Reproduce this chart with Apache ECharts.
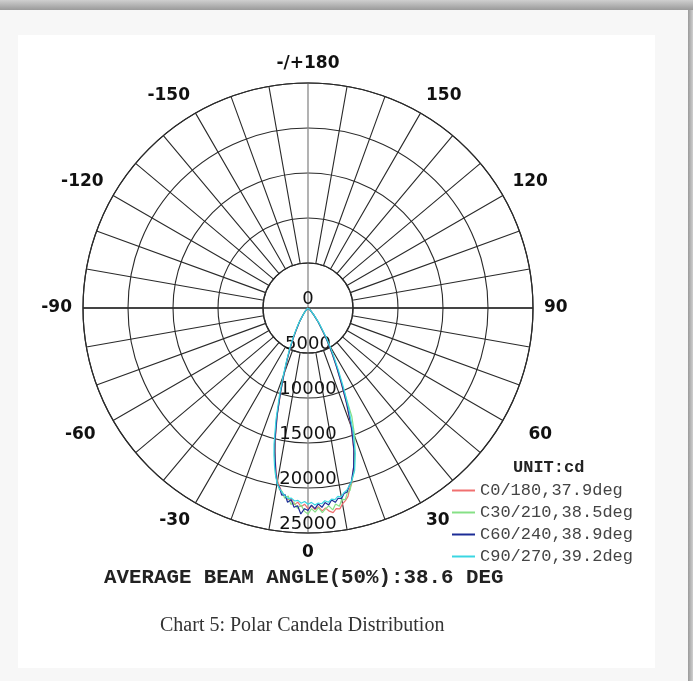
<!DOCTYPE html>
<html>
<head>
<meta charset="utf-8">
<script src="https://cdn.jsdelivr.net/npm/echarts@6/dist/echarts.min.js"></script>
<style>
  html, body { margin: 0; padding: 0; }
  #main { width: 693px; height: 681px; }
</style>
</head>
<body>
<div id="main"></div>
<script>
// gamma angles (deg), 0 = straight down
const ANGLES = [-90, -60, -45, -40, -36, -32, -30, -28, -26, -24, -22, -20, -18, -16,
  -14, -13, -12, -11, -10, -9, -8, -7, -6, -5, -4, -3, -2, -1, 0, 1, 2, 3, 4, 5, 6, 7, 8, 9, 10, 11, 12, 13, 14,
  16, 18, 20, 22, 24, 26, 28, 30, 32, 36, 40, 45, 60, 90];

// candela values per C-plane (beam leans slightly to the + side)
const C0 = [0, 35, 200, 480, 900, 1700, 2100, 2800, 3700, 4800, 6100, 7700, 9800, 12400,
  15000, 16200, 17400, 18600, 19500, 20100, 20700, 21000, 21400, 21300, 21900, 21600, 22100, 21800, 22300,
  22000, 22400, 22100, 22600, 22300, 22700, 22900, 22500, 22600, 22100, 21800, 21400, 20600, 20100,
  18400, 16400, 14000, 11400, 9000, 7100, 5600, 4400, 3300, 1900, 1000, 400, 55, 0];
const C30 = [0, 38, 220, 520, 950, 1750, 2250, 2950, 3850, 4950, 6250, 7900, 10000, 12600,
  15300, 16500, 17700, 18900, 19600, 20400, 20600, 21300, 21000, 21900, 21700, 22300, 21900, 22600, 22900,
  22300, 22700, 22200, 22800, 22400, 22100, 22600, 22000, 22300, 21600, 21700, 21000, 20800, 20000,
  18700, 16800, 15200, 13000, 9300, 7400, 5800, 4500, 3400, 1950, 1000, 420, 60, 0];
const C60 = [0, 35, 210, 500, 920, 1720, 2180, 2880, 3780, 4880, 6180, 7800, 9900, 12500,
  15200, 16400, 17500, 18700, 19800, 20200, 21000, 20900, 21700, 21400, 22200, 22000, 22900, 22300, 22500,
  21900, 22300, 21800, 22200, 21700, 22000, 21500, 21800, 21400, 21500, 21000, 20900, 20300, 19900,
  18400, 16500, 14100, 11500, 9100, 7200, 5700, 4450, 3350, 1950, 990, 410, 58, 0];
const C90 = [0, 45, 220, 500, 950, 1800, 2350, 3100, 4000, 5100, 6400, 8100, 10300, 12900,
  15600, 16800, 17900, 18900, 19800, 20300, 20700, 21000, 21300, 21200, 21500, 21400, 21700, 21500, 21800,
  21600, 21900, 21700, 21800, 21500, 21700, 21400, 21500, 21200, 21300, 20900, 20700, 20300, 19900,
  18800, 17000, 14700, 12100, 9700, 7700, 6100, 4800, 3700, 2150, 1100, 480, 65, 0];

const SERIES_NAMES = ['C0/180,37.9deg', 'C30/210,38.5deg', 'C60/240,38.9deg', 'C90/270,39.2deg'];
const SERIES_COLORS = ['#f07070', '#86e086', '#1c2c96', '#3ad6e2'];

const RADIUS_MAX = 25000;
const RADIUS_STEP = 5000;

const chart = echarts.init(document.getElementById('main'));

const center = [308, 308];
const R = 225;
const gridColor = '#2a2a2a';

// spoke colours: skip the 0/180 spokes, the grey centre line is drawn there
const spokeColors = ['rgba(0,0,0,0)'];
for (let i = 1; i < 18; i++) spokeColors.push(gridColor);

function toSeries(name, values, color) {
  return {
    name: name,
    type: 'line',
    coordinateSystem: 'polar',
    polarIndex: 0,
    symbol: 'none',
    clip: false,
    lineStyle: { color: color, width: 1.2 },
    itemStyle: { color: color },
    data: ANGLES.map((a, i) => [values[i], a])
  };
}

const labelFont = { fontFamily: 'DejaVu Sans', fontWeight: 'bold', fontSize: 17, color: '#111' };

const option = {
  backgroundColor: '#f7f7f7',
  animation: false,
  graphic: [
    { type: 'rect', z: -10, shape: { x: 0, y: 0, width: 693, height: 10 },
      style: { fill: new echarts.graphic.LinearGradient(0, 0, 0, 1, [
        { offset: 0, color: '#cfcfcf' }, { offset: 1, color: '#9a9a9a' }]) } },
    { type: 'rect', z: -10, shape: { x: 688, y: 10, width: 5, height: 671 },
      style: { fill: new echarts.graphic.LinearGradient(0, 0, 1, 0, [
        { offset: 0, color: '#9a9a9a' }, { offset: 1, color: '#d0d0d0' }]) } },
    { type: 'rect', z: -10, shape: { x: 18, y: 35, width: 637, height: 633 },
      style: { fill: '#ffffff' } }
  ],
  title: [
    {
      text: 'UNIT:cd', left: 513, top: 459, padding: 0,
      textStyle: { fontFamily: 'Liberation Mono', fontWeight: 'bold', fontSize: 17, color: '#222' }
    },
    {
      text: 'AVERAGE BEAM ANGLE(50%):38.6 DEG', left: 104, top: 567, padding: 0,
      textStyle: { fontFamily: 'Liberation Mono', fontWeight: 'bold', fontSize: 20.8, color: '#222' }
    },
    {
      text: 'Chart 5: Polar Candela Distribution', left: 160, top: 616, padding: 0,
      textStyle: { fontFamily: 'Liberation Serif', fontWeight: 'normal', fontSize: 20, color: '#333' }
    }
  ],
  legend: {
    orient: 'vertical', left: 452, top: 482, padding: 0,
    itemWidth: 23, itemHeight: 2, itemGap: 5, icon: 'rect',
    textStyle: { fontFamily: 'Liberation Mono', fontSize: 17, color: '#444' },
    data: SERIES_NAMES.map((n, i) => ({ name: n, itemStyle: { color: SERIES_COLORS[i] } }))
  },
  polar: [
    { center: center, radius: [0, R] },
    { center: center, radius: [45, R] },
    { center: center, radius: [0, R] }
  ],
  angleAxis: [
    {
      // cross through the centre
      polarIndex: 0, type: 'value', min: -180, max: 180, interval: 90,
      startAngle: 90, clockwise: false,
      axisLine: { show: false }, axisTick: { show: false }, axisLabel: { show: false },
      splitLine: { show: true, lineStyle: { color: ['#8a8a8a', gridColor], width: 1.3 } }
    },
    {
      // 10 degree spokes outside the 5000 ring
      polarIndex: 1, type: 'value', min: -180, max: 180, interval: 10,
      startAngle: 90, clockwise: false,
      axisLine: { show: true, lineStyle: { color: gridColor, width: 1.2 } },
      axisTick: { show: false }, axisLabel: { show: false },
      splitLine: { show: true, lineStyle: { color: spokeColors, width: 1.1 } }
    },
    {
      // labels every 30 degrees, 0 at the bottom
      polarIndex: 2, type: 'value', min: 0, max: 360, interval: 30,
      startAngle: 270, clockwise: false,
      axisLine: { show: false }, axisTick: { show: false }, splitLine: { show: false },
      axisLabel: Object.assign({
        show: true, margin: 11,
        formatter: function (v) {
          if (v === 360) return '';
          if (v === 180) return '-/+180';
          if (v === 60) return '{p|60}';
          if (v === 300) return '{n|-60}';
          return v > 180 ? String(v - 360) : String(v);
        },
        rich: {
          p: Object.assign({ padding: [0, 0, 0, 16] }, labelFont),
          n: Object.assign({ padding: [0, 8, 0, 0] }, labelFont)
        }
      }, labelFont)
    }
  ],
  radiusAxis: [
    {
      polarIndex: 0, type: 'value', min: 0, max: RADIUS_MAX, interval: RADIUS_STEP,
      axisLine: { show: false }, axisTick: { show: false }, axisLabel: { show: false },
      splitLine: { show: true, lineStyle: { color: gridColor, width: 1.1 } }
    },
    {
      polarIndex: 1, type: 'value', min: 0, max: RADIUS_MAX, show: false
    },
    {
      polarIndex: 2, type: 'value', min: 0, max: RADIUS_MAX, interval: RADIUS_STEP,
      axisLine: { show: false }, axisTick: { show: false }, splitLine: { show: false },
      axisLabel: {
        show: true, margin: 0, align: 'center', verticalAlign: 'bottom',
        color: '#111', fontFamily: 'DejaVu Sans', fontSize: 18,
        formatter: function (v) { return String(v); }
      }
    }
  ],
  series: [
    toSeries(SERIES_NAMES[0], C0, SERIES_COLORS[0]),
    toSeries(SERIES_NAMES[1], C30, SERIES_COLORS[1]),
    toSeries(SERIES_NAMES[2], C60, SERIES_COLORS[2]),
    toSeries(SERIES_NAMES[3], C90, SERIES_COLORS[3])
  ]
};

chart.setOption(option);
</script>
</body>
</html>
